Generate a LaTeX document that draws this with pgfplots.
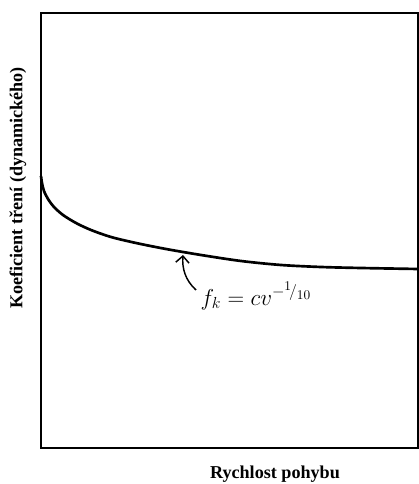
\documentclass[border=0pt]{standalone}
\usepackage{fontspec}
\usepackage{pgfplots}
\pgfplotsset{compat=1.18}
\usetikzlibrary{arrows.meta}
\newfontfamily\labelfont{Liberation Serif}

\begin{document}
\begin{tikzpicture}
\begin{axis}[
  x=0.75pt, y=0.75pt, xmin=0, xmax=377, ymin=0, ymax=435,
  xtick=\empty, ytick=\empty, axis line style={line width=1.4pt},
  clip=false,
]
% coefficient of kinetic friction vs. speed
\addplot[line width=2pt, smooth] coordinates {
(0,272) (1,265) (3,257) (7,249) (13,241) (22,233) (35,225) (50,218)
(70,211) (95,205) (125,199) (160,193) (200,187) (240,183) (280,181)
(320,180) (377,179)
};
\draw[-{Straight Barb[length=5pt]}, line width=1.1pt]
  (axis cs:155,158) .. controls (axis cs:144,168) and (axis cs:141,180) .. (axis cs:142,193);
\node[anchor=west, font=\LARGE] at (axis cs:155,152) {$f_{k} = cv^{-{}^{1}\!/_{10}}$};
\node[font=\labelfont\bfseries\fontsize{13.6}{16}\selectfont, rotate=90] at (axis cs:-23,260) {Koeficient tření (dynamického)};
\node[font=\labelfont\bfseries\fontsize{13.6}{16}\selectfont] at (axis cs:234,-26) {Rychlost pohybu};
\coordinate (bl) at (axis cs:-41,-36);
\coordinate (tr) at (axis cs:377,448);
\end{axis}
\pgfresetboundingbox
\path[use as bounding box] (bl) rectangle (tr);
\end{tikzpicture}
\end{document}
